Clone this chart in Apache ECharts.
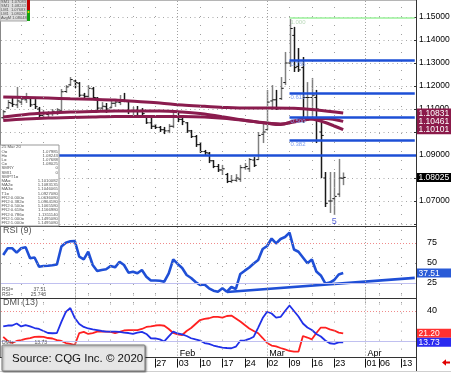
<!DOCTYPE html>
<html><head><meta charset="utf-8">
<script src="https://cdn.jsdelivr.net/npm/echarts@6/dist/echarts.min.js"></script>
<style>html,body{margin:0;padding:0;background:#fff}#c{width:451px;height:373px}</style>
</head><body><div id="c"></div>
<script>
// ---------- DATA ----------
const dates = ["2019-12-10","2019-12-11","2019-12-12","2019-12-13","2019-12-16","2019-12-17","2019-12-18","2019-12-19","2019-12-20","2019-12-23","2019-12-24","2019-12-25","2019-12-26","2019-12-27","2019-12-30","2019-12-31",
"2020-01-01","2020-01-02","2020-01-03","2020-01-06","2020-01-07","2020-01-08","2020-01-09","2020-01-10","2020-01-13","2020-01-14","2020-01-15","2020-01-16","2020-01-17","2020-01-20","2020-01-21","2020-01-22","2020-01-23","2020-01-24","2020-01-27","2020-01-28","2020-01-29","2020-01-30","2020-01-31",
"2020-02-03","2020-02-04","2020-02-05","2020-02-06","2020-02-07","2020-02-10","2020-02-11","2020-02-12","2020-02-13","2020-02-14","2020-02-17","2020-02-18","2020-02-19","2020-02-20","2020-02-21","2020-02-24","2020-02-25","2020-02-26","2020-02-27","2020-02-28",
"2020-03-02","2020-03-03","2020-03-04","2020-03-05","2020-03-06","2020-03-09","2020-03-10","2020-03-11","2020-03-12","2020-03-13","2020-03-16","2020-03-17","2020-03-18","2020-03-19","2020-03-20","2020-03-23","2020-03-24","2020-03-25","2020-03-26","2020-03-27","2020-03-30","2020-03-31",
"2020-04-01","2020-04-02","2020-04-03","2020-04-06","2020-04-07","2020-04-08","2020-04-09","2020-04-10","2020-04-13","2020-04-14","2020-04-15","2020-04-16"];

const opens  = [1.1062,1.1105,1.1125,1.1118,1.1130,1.1140,1.1145,1.1120,1.1100,1.1072,1.1076,1.1080,1.1085,1.1092,1.1176,1.1205,1.1222,1.1212,1.1160,1.1155,1.1188,1.1148,1.1104,1.1110,1.1105,1.1125,1.1128,1.1140,1.1132,1.1090,1.1092,1.1090,1.1070,1.1040,1.1025,1.1020,1.1010,1.1005,1.1025,1.1085,1.1055,1.1040,1.1005,1.0980,1.0945,1.0915,1.0908,1.0875,1.0850,1.0835,1.0815,1.0785,1.0790,1.0795,1.0845,1.0840,1.0878,1.0880,1.0990,1.1010,1.1135,1.1140,1.1145,1.1215,1.1300,1.1420,1.1285,1.1280,1.1150,1.1150,1.1150,1.1000,1.0800,1.0700,1.0710,1.0730,1.0799];
const highs  = [1.1096,1.1139,1.1148,1.1196,1.1152,1.1170,1.1148,1.1143,1.1109,1.1096,1.1091,1.1100,1.1104,1.1187,1.1204,1.1239,1.1226,1.1217,1.1170,1.1204,1.1196,1.1152,1.1130,1.1126,1.1139,1.1143,1.1161,1.1170,1.1135,1.1109,1.1113,1.1104,1.1074,1.1061,1.1035,1.1026,1.1022,1.1035,1.1096,1.1091,1.1065,1.1043,1.1009,1.0987,1.0956,1.0922,1.0913,1.0878,1.0861,1.0857,1.0822,1.0813,1.0817,1.0857,1.0865,1.0887,1.0891,1.1000,1.1043,1.1183,1.1204,1.1183,1.1239,1.1348,1.1491,1.1457,1.1365,1.1326,1.1217,1.1235,1.1183,1.1043,1.0826,1.0826,1.0826,1.0883,1.0824];
const lows   = [1.1057,1.1100,1.1109,1.1104,1.1117,1.1126,1.1109,1.1100,1.1065,1.1065,1.1065,1.1070,1.1074,1.1083,1.1170,1.1200,1.1191,1.1152,1.1139,1.1148,1.1143,1.1096,1.1096,1.1083,1.1104,1.1109,1.1117,1.1130,1.1078,1.1074,1.1070,1.1065,1.1035,1.1013,1.1013,1.1000,1.0991,1.0995,1.1017,1.1043,1.1030,1.0996,1.0974,1.0935,1.0909,1.0900,1.0865,1.0843,1.0826,1.0813,1.0778,1.0778,1.0783,1.0783,1.0835,1.0826,1.0848,1.0878,1.0952,1.1009,1.1096,1.1096,1.1139,1.1204,1.1283,1.1261,1.1261,1.1039,1.1061,1.1052,1.0952,1.0800,1.0674,1.0648,1.0639,1.0717,1.0769];
const closes = [1.1088,1.1128,1.1120,1.1135,1.1143,1.1152,1.1118,1.1110,1.1072,1.1080,1.1083,1.1090,1.1096,1.1175,1.1196,1.1228,1.1215,1.1160,1.1155,1.1190,1.1150,1.1104,1.1112,1.1100,1.1125,1.1130,1.1140,1.1135,1.1090,1.1094,1.1090,1.1080,1.1040,1.1025,1.1020,1.1010,1.1005,1.1025,1.1088,1.1055,1.1045,1.1005,1.0980,1.0945,1.0915,1.0910,1.0875,1.0850,1.0835,1.0840,1.0785,1.0790,1.0800,1.0845,1.0850,1.0880,1.0855,1.0985,1.1000,1.1130,1.1140,1.1100,1.1190,1.1300,1.1450,1.1280,1.1270,1.1150,1.1150,1.1160,1.1100,1.0985,1.0690,1.0700,1.0720,1.0800,1.08025];

// moving averages: [bar index, value] read at sample bars
const ma2 = [[0,1.11522],[5,1.11500],[10,1.11478],[15,1.11443],[20,1.11422],[25,1.11391],[30,1.11326],[35,1.11261],[40,1.11174],[45,1.11117],[50,1.11065],[55,1.11043],[60,1.11043],[65,1.11030],[70,1.10957],[76,1.10831]];
const ma3 = [[0,1.10652],[5,1.10761],[10,1.10826],[15,1.10870],[20,1.10891],[25,1.10913],[30,1.10913],[35,1.10913],[40,1.10870],[45,1.10783],[50,1.10630],[55,1.10478],[60,1.10370],[62,1.10348],[65,1.10435],[68,1.10543],[70,1.10587],[72,1.10587],[74,1.10543],[76,1.10461]];
const ma1 = [[0,1.10500],[5,1.10565],[10,1.10609],[15,1.10630],[20,1.10652],[25,1.10674],[30,1.10674],[35,1.10674],[40,1.10674],[45,1.10652],[50,1.10587],[55,1.10478],[60,1.10348],[62,1.10326],[65,1.10478],[68,1.10587],[70,1.10522],[72,1.10413],[74,1.10261],[76,1.10101]];

const t1Level = 1.09271;
const fibStart = "2020-03-09";
const fibRatios = ["0.382","0.500","0.618","0.786"];
const fibValues = [1.09642,1.10655,1.11669,1.13112];
const fibTopRatio = "1.000";
const fibTopValue = 1.14951;

const rsi = [60,68.4,68.4,62.9,68.4,69.6,55.9,56.9,45.4,46.3,46.6,47.1,48.1,70.6,75.4,77.1,77.5,57.9,54.6,64.1,47.5,40,41.3,42.1,46.3,44.6,51.6,47.5,37.9,39.1,37.1,41.3,32.9,28.1,28.1,27.8,26.6,37.1,54.6,48.8,43.8,35,31.3,26.3,22.5,23.1,18.4,15.4,14.1,18.4,14.1,20,17.5,36.3,40.4,44.4,49.4,53.8,67.5,71.3,80.6,74.4,80,82.5,87.9,66.9,64.1,56.9,49.6,54.4,39.4,34.4,24.4,25.6,28.75,35.6,37.51];
const rsiTrend = [["2020-02-18",13.75],["2020-04-16",31.4]];

const dmiBlue = [27.0,27.8,27.8,29.5,27.0,28.2,27.0,25.7,24.9,23.2,21.5,21.3,21.5,30.8,39.2,42.5,34.1,29.1,26.6,25.3,24.5,24.0,23.2,22.6,22.6,22.6,22.4,21.9,21.5,20.7,21.9,22.4,20.7,17.1,16.9,16.2,14.4,18.6,22.6,21.1,20.3,19.0,17.1,16.1,15.2,13.1,12.3,11.0,10.0,9.3,8.9,8.7,10.0,15.0,15.4,16.5,18.4,26.1,34.1,39.4,37.9,34.5,35.0,40.0,44.6,40.0,35.4,29.5,26.1,24.0,20.7,18.6,15.2,12.9,12.3,13.7,13.73];
const dmiRed  = [18.2,14.8,13.1,14.8,15.6,16.5,17.3,18.2,18.4,18.2,17.3,16.9,15.6,14.8,13.1,12.3,11.4,21.5,22.4,20.7,21.5,22.6,22.6,22.6,22.4,21.5,22.4,23.6,24.0,24.0,24.0,24.9,26.6,27.0,27.8,28.2,27.6,24.9,21.5,20.3,19.8,23.2,25.7,29.1,32.4,33.3,33.9,35.0,35.0,34.4,35.8,36.2,33.7,31.2,28.2,25.3,23.2,21.3,17.3,13.1,11.0,10.2,8.9,7.7,6.4,5.8,5.8,19.0,17.7,16.2,21.5,26.1,26.1,24.5,23.6,21.8,21.20];

const tickDates = ["2019-12-16","2019-12-23","2020-01-01","2020-01-06","2020-01-13","2020-01-20","2020-01-27","2020-02-03","2020-02-10","2020-02-17","2020-02-24","2020-03-02","2020-03-09","2020-03-16","2020-03-23","2020-04-01","2020-04-06","2020-04-13"];
const monthDates = ["2020-01-01","2020-02-03","2020-03-02","2020-04-01"];
const monthNames = ["Jan","Feb","Mar","Apr"];

const legendRows = ["SM1  1.07083","SM1  1.08243","LM1  1.07683","LM1  1.08026","AvgM 1.08048"];
const boxKeys = ["25 Mar 20","O=","H=","L=","C=","SMRY","SMI1","SMPT1=","MA=","MA2=","MA3=","T1=","FR2:0.000=","FR2:0.382=","FR2:0.500=","FR2:0.618=","FR2:0.786=","FR2:1.000=","FR2:1.000="];
const boxVals = ["","1.07985","1.08243","1.07688","1.08025","0","0","","1.1010082","1.1083135","1.1046065","1.0927080","1.0636080","1.0964180","1.1065580","1.1166980","1.1311140","1.1495080","1.1495080"];

// ---------- CHART ----------
const FONT = "'Liberation Sans', Arial, sans-serif";
const chart = echarts.init(document.getElementById('c'));
const di = d => dates.indexOf(d);
const tickSet = new Set(tickDates.map(di));
const monthSet = new Set(monthDates.map(di));
const last = dates[dates.length - 1];
const CLEAR = 'rgba(0,0,0,0)';

function vLines() {
  return tickDates.map(d => ({xAxis: d, lineStyle: {color: '#a0a0a0', width: 1, type: monthDates.includes(d) ? [1, 2] : [1, 8]}}));
}
const mlBase = {silent: true, symbol: ['none', 'none'], animation: false, label: {show: false}, emphasis: {disabled: true}};

function renderOHLC(params, api) {
  const i = api.value(0);
  const o = api.coord([i, api.value(1)]);
  const h = api.coord([i, api.value(2)]);
  const l = api.coord([i, api.value(3)]);
  const c = api.coord([i, api.value(4)]);
  const up = api.value(4) >= api.value(1);
  const x = Math.round(h[0]) + 0.5;
  return {type: 'group', children: [
    {type: 'line', shape: {x1: x, y1: h[1], x2: x, y2: l[1]}, style: {stroke: up ? '#808080' : '#1a1a1a', lineWidth: 1.5}},
    {type: 'line', shape: {x1: x - 2.2, y1: o[1], x2: x, y2: o[1]}, style: {stroke: '#111', lineWidth: 1}},
    {type: 'line', shape: {x1: x, y1: c[1], x2: x + 2.2, y2: c[1]}, style: {stroke: '#111', lineWidth: 1}}
  ]};
}

const catAxis = (g, extra) => Object.assign({type: 'category', gridIndex: g, data: dates, boundaryGap: true,
  axisLine: {show: false}, axisTick: {show: false}, axisLabel: {show: false}, splitLine: {show: false}}, extra || {});

const G = [];
const gl = (x1, y1, x2, y2, stroke, z) => G.push({type: 'line', silent: true, z: z || 50, shape: {x1, y1, x2, y2}, style: {stroke, lineWidth: 1}});
const gt = (t, x, y, size, fill, align, z) => G.push({type: 'text', silent: true, z: z || 62, x, y,
  style: {text: t, fontSize: size, fontFamily: FONT, fill, align: align || 'left', verticalAlign: 'middle'}});

gl(0, 0.5, 417, 0.5, '#b5b5b5');
gl(0.5, 0, 0.5, 358, '#888');
gl(416.5, 0, 416.5, 372, '#333');
gl(0, 226.5, 417, 226.5, '#333');
gl(0, 298.5, 417, 298.5, '#333');
gl(0, 357.5, 417, 357.5, '#333');
gl(0, 371.5, 451, 371.5, '#cfcfcf');

// legend box top-left
G.push({type: 'rect', silent: true, z: 60, shape: {x: 0, y: 0, width: 27, height: 21}, style: {fill: '#dedede', stroke: '#aaa'}});
G.push({type: 'rect', silent: true, z: 61, shape: {x: 27, y: 0, width: 3, height: 10}, style: {fill: '#c00000'}});
G.push({type: 'rect', silent: true, z: 61, shape: {x: 27, y: 10, width: 3, height: 11}, style: {fill: '#12a012'}});
G.push({type: 'circle', silent: true, z: 62, shape: {cx: 28.5, cy: 12, r: 1}, style: {fill: '#ffd700'}});
legendRows.forEach((t, k) => gt(t, 1, 2.3 + k * 4, 4, '#555'));

// data box
G.push({type: 'rect', silent: true, z: 60, shape: {x: 0, y: 145, width: 59, height: 81}, style: {fill: '#fff', stroke: '#999'}});
boxKeys.forEach((t, k) => gt(t, 1.5, 147.3 + k * 4.2, 4.3, '#555'));
boxVals.forEach((t, k) => gt(t, 58, 147.3 + k * 4.2, 4.3, '#555', 'right'));

gt('RSI (9)', 3, 231, 9, '#555');
gt('RSI=', 2, 289.5, 5, '#555'); gt('37.51', 46, 289.5, 5, '#555', 'right');
gt('RSI~', 2, 295, 5, '#555'); gt('25.743', 46, 295, 5, '#555', 'right');
gt('DMI (13)', 3, 303, 9, '#555');
gt('DMI+', 2, 343, 5, '#555'); gt('13.73', 47, 343, 5, '#555', 'right');

// source box
G.push({type: 'rect', silent: true, z: 70, shape: {x: 2, y: 345, width: 143, height: 26, r: 1},
  style: {fill: '#e6e6e6', stroke: '#7a7a7a', lineWidth: 1, shadowBlur: 2, shadowOffsetX: 1, shadowOffsetY: 1, shadowColor: 'rgba(0,0,0,0.45)'}});
gt('Source: CQG Inc. \u00A9 2020', 12, 358.5, 11.5, '#111', 'left', 71);
// red arrow bottom right
G.push({type: 'polygon', silent: true, z: 60, shape: {points: [[442, 362.5], [446, 359.3], [446, 361.5], [450, 361.5], [450, 363.5], [446, 363.5], [446, 365.7]]}, style: {fill: '#e00000'}});

const option = {
  animation: false,
  grid: [
    {left: 1, right: 34, top: -6, height: 230, outerBoundsMode: 'none'},
    {left: 1, right: 34, top: 223, height: 80, outerBoundsMode: 'none'},
    {left: 1, right: 34, top: 287.2, height: 71.4, outerBoundsMode: 'none'}
  ],
  xAxis: [
    catAxis(0), catAxis(1),
    catAxis(2, {position: 'bottom',
      axisTick: {show: true, alignWithLabel: true, length: 9, interval: (i) => tickSet.has(i), lineStyle: {color: '#111'}},
      axisLabel: {show: true, interval: (i) => tickSet.has(i), formatter: (v) => v.slice(8), align: 'left', margin: 0,
        padding: [0, 0, 0, 1], fontSize: 9, fontFamily: FONT, color: '#000'}}),
    catAxis(2, {position: 'bottom', offset: 0,
      axisLabel: {show: true, inside: true, interval: (i) => monthSet.has(i), formatter: (v) => monthNames[monthDates.indexOf(v)] || '',
        align: 'left', margin: 1, padding: [0, 0, 0, 2], fontSize: 9, fontFamily: FONT, color: '#000'}})
  ],
  yAxis: [
    {type: 'value', gridIndex: 0, position: 'right', min: 1.06, max: 1.16, interval: 0.01,
      axisLine: {show: false}, axisTick: {show: true, inside: true, length: 3, lineStyle: {color: '#333'}},
      axisLabel: {margin: 2, align: 'left', fontSize: 8.5, fontFamily: FONT, color: '#000',
        formatter: (v) => (v > 1.065 && v < 1.155) ? v.toFixed(5) : ''},
      splitLine: {show: true, lineStyle: {color: '#a8a8a8', type: [1, 3.5]}}},
    {type: 'value', gridIndex: 1, position: 'right', min: 0, max: 100, interval: 25,
      axisLine: {show: false}, axisTick: {show: false}, splitLine: {show: false},
      axisLabel: {margin: 15, align: 'center', fontSize: 9, fontFamily: FONT, color: '#000',
        formatter: (v) => (v > 0 && v < 100) ? String(v) : ''}},
    {type: 'value', gridIndex: 2, position: 'right', min: 0, max: 60, interval: 20,
      axisLine: {show: false}, axisTick: {show: false}, splitLine: {show: false},
      axisLabel: {margin: 15, align: 'center', fontSize: 9, fontFamily: FONT, color: '#000',
        formatter: (v) => v === 40 ? '40' : ''}}
  ],
  series: [
    {type: 'line', xAxisIndex: 0, yAxisIndex: 0, data: [], z: 1, markLine: Object.assign({}, mlBase, {data: vLines()})},
    {type: 'custom', xAxisIndex: 0, yAxisIndex: 0, z: 3, renderItem: renderOHLC,
      encode: {x: 0, y: [1, 2, 3, 4]}, clip: true,
      data: opens.map((o, i) => [i, o, highs[i], lows[i], closes[i]])},
    {type: 'line', xAxisIndex: 0, yAxisIndex: 0, z: 4, smooth: 0.35, symbol: 'none', data: ma2.map(([i, v]) => [dates[i], v]),
      lineStyle: {color: '#8a1c4e', width: 3}},
    {type: 'line', xAxisIndex: 0, yAxisIndex: 0, z: 4, smooth: 0.35, symbol: 'none', data: ma3.map(([i, v]) => [dates[i], v]),
      lineStyle: {color: '#8a1c4e', width: 3}},
    {type: 'line', xAxisIndex: 0, yAxisIndex: 0, z: 4, smooth: 0.35, symbol: 'none', data: ma1.map(([i, v]) => [dates[i], v]),
      lineStyle: {color: '#8a1c4e', width: 3}},
    {type: 'line', xAxisIndex: 0, yAxisIndex: 0, data: [], z: 5, markLine: Object.assign({}, mlBase, {data: [
      {yAxis: t1Level, lineStyle: {color: '#1d4fd6', width: 2.6, type: 'solid'}},
      [{coord: [fibStart, fibTopValue], lineStyle: {color: '#9af09a', width: 1.5, type: 'solid'},
        label: {show: true, position: 'insideStartBottom', distance: 1, formatter: fibTopRatio, color: '#b8d8b8', fontSize: 6, fontFamily: FONT}},
       {coord: [last, fibTopValue]}],
      ...fibValues.map((v, k) => [{coord: [fibStart, v], lineStyle: {color: '#1d4fd6', width: 2.6, type: 'solid'},
        label: {show: true, position: 'insideStartBottom', distance: 1, formatter: fibRatios[k], color: '#7f9ff0', fontSize: 6, fontFamily: FONT}},
        {coord: [last, v]}])
    ]})},
    {type: 'scatter', xAxisIndex: 0, yAxisIndex: 0, z: 6, symbolSize: 1, itemStyle: {color: CLEAR},
      data: [["2020-03-23", lows[di("2020-03-23")]]],
      label: {show: true, position: 'bottom', distance: 1, formatter: '5', color: '#2a3ad0', fontSize: 9, fontFamily: FONT}},
    {type: 'line', xAxisIndex: 1, yAxisIndex: 1, z: 3, symbol: 'none', data: rsi,
      lineStyle: {color: '#1f4fd6', width: 2.6},
      markLine: Object.assign({}, mlBase, {data: [
        ...vLines(),
        {yAxis: 75, lineStyle: {color: '#f08a8a', width: 1, type: [1, 2]}},
        {yAxis: 50, lineStyle: {color: '#999', width: 1, type: [1, 8]}},
        {yAxis: 25, lineStyle: {color: '#c0c0f0', width: 1, type: 'solid'}}
      ]})},
    {type: 'line', xAxisIndex: 1, yAxisIndex: 1, z: 4, symbol: 'none', data: rsiTrend,
      lineStyle: {color: '#1f4fd6', width: 2.6}},
    {type: 'line', xAxisIndex: 2, yAxisIndex: 2, z: 3, symbol: 'none', data: dmiRed,
      lineStyle: {color: '#ff2020', width: 1.8},
      markLine: Object.assign({}, mlBase, {data: [
        ...vLines(),
        {yAxis: 40, lineStyle: {color: '#f08a8a', width: 1, type: [1, 2]}},
        {yAxis: 15, lineStyle: {color: '#c0c0f0', width: 1, type: 'solid'}}
      ]})},
    {type: 'line', xAxisIndex: 2, yAxisIndex: 2, z: 3, symbol: 'none', data: dmiBlue,
      lineStyle: {color: '#2030e8', width: 1.8}}
  ],
  graphic: G
};
chart.setOption(option);

// value boxes on the right axes, positioned through the axis scales
const boxes = [
  [0, ma2[ma2.length - 1][1], ma2[ma2.length - 1][1].toFixed(5), '#8b1a4a'],
  [0, ma3[ma3.length - 1][1], ma3[ma3.length - 1][1].toFixed(5), '#8b1a4a'],
  [0, ma1[ma1.length - 1][1], ma1[ma1.length - 1][1].toFixed(5), '#8b1a4a'],
  [0, closes[closes.length - 1], closes[closes.length - 1].toFixed(5), '#000000'],
  [1, rsi[rsi.length - 1], rsi[rsi.length - 1].toFixed(2), '#2a5bd7'],
  [2, dmiRed[dmiRed.length - 1], dmiRed[dmiRed.length - 1].toFixed(2), '#ff3030'],
  [2, dmiBlue[dmiBlue.length - 1], dmiBlue[dmiBlue.length - 1].toFixed(2), '#2a2af0']
];
const B = [];
boxes.forEach(([ax, v, txt, bg]) => {
  const y = chart.convertToPixel({yAxisIndex: ax}, v);
  B.push({type: 'rect', silent: true, z: 80, shape: {x: 417, y: y - 4.5, width: 34, height: 9}, style: {fill: bg}});
  B.push({type: 'text', silent: true, z: 81, x: 418.5, y: y + 0.3,
    style: {text: txt, fontSize: 8.5, fontFamily: FONT, fill: '#fff', align: 'left', verticalAlign: 'middle'}});
});
chart.setOption({graphic: G.concat(B)});
</script>
</body></html>
